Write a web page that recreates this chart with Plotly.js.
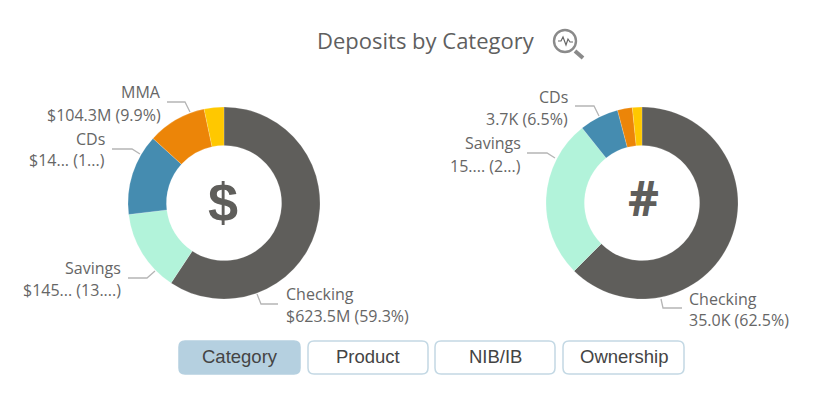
<!DOCTYPE html>
<html><head><meta charset="utf-8">
<script src="https://cdn.plot.ly/plotly-3.0.1.min.js"></script>
<style>html,body{margin:0;padding:0;background:#fff;overflow:hidden}#c{width:824px;height:393px}</style>
</head><body><div id="c"></div>
<script>
const categories = ['Checking','Savings','CDs','MMA','Other'];
const amountValues = [623.5,145.0,143.6,104.3,35.0];
const countValues = [35.0,15.0,3.7,1.4,0.9];
const sliceColors = ['#5f5e5b','#b2f3da','#458cb0','#ec8508','#ffc800'];
const amountLabels = [
  ['Checking','$623.5M (59.3%)','left',286,294,316,[[278,304],[261,304],[257,294]]],
  ['Savings','$145... (13....)','right',121,268,290,[[128,278],[147,278],[155,271]]],
  ['CDs','$14... (1...)','right',105,139,160,[[112,149],[132,149],[140,154]]],
  ['MMA','$104.3M (9.9%)','right',161,92,115,[[167,102],[185,102],[190,112]]]
];
const countLabels = [
  ['Checking','35.0K (62.5%)','left',689,299,320,[[682,308],[663,308],[661,299]]],
  ['Savings','15.... (2...)','right',521,143,166,[[527,153],[547,153],[555,158]]],
  ['CDs','3.7K (6.5%)','right',568,97,119,[[575,106],[594,106],[599,116]]]
];
const buttonLabels = ['Category','Product','NIB/IB','Ownership'];
const buttonEdges = [[179,300],[308,428],[435,555],[563,684]];

const W=824,H=393,px=x=>x/W,py=y=>1-y/H;
const labelFont='"Open Sans","Noto Sans",sans-serif';
function pie(values,cx){return {type:'pie',values:values,labels:categories,sort:false,direction:'clockwise',rotation:0,hole:0.6,
  textinfo:'none',hoverinfo:'label+value',showlegend:false,
  marker:{colors:sliceColors,line:{color:'rgba(255,255,255,0.35)',width:0.5}},
  domain:{x:[px(cx-96),px(cx+96)],y:[py(299),py(107)]}};}
const annotations=[],shapes=[];
function txt(t,x,y,anchor,size,color,family,bold){annotations.push({text:bold?'<b>'+t+'</b>':t,xref:'paper',yref:'paper',x:px(x),y:py(y),xanchor:anchor,yanchor:'middle',showarrow:false,borderpad:0,borderwidth:0,font:{size:size,color:color,family:family}});}
function poly(pts,color,w){shapes.push({type:'path',xref:'paper',yref:'paper',path:'M'+pts.map(p=>px(p[0])+','+py(p[1])).join('L'),line:{color:color,width:w},fillcolor:'rgba(0,0,0,0)'});}
amountLabels.concat(countLabels).forEach(l=>{
  txt(l[0],l[3],l[4],l[2],16,'#666666',labelFont);
  txt(l[1],l[3],l[5],l[2],16,'#666666',labelFont);
  poly(l[6],'#b5b5b5',1.3);
});
txt('Deposits by Category',425.5,40,'center',22,'#5f5f5f',labelFont);
txt('$',222.5,202,'center',54,'#5f5e5b','"Liberation Sans",Arial,sans-serif',true);
txt('#',643.5,198,'center',48,'#5f5e5b',labelFont,true);
// zoom icon
shapes.push({type:'circle',xref:'paper',yref:'paper',x0:px(554),x1:px(576),y0:py(52),y1:py(30),line:{color:'#8a8a8a',width:2.4},fillcolor:'#fff'});
poly([[575,51],[583,58]],'#8a8a8a',4);
poly([[558,41],[561,41],[563,37],[566,45],[568,39],[570,42],[573,42]],'#666666',1.2);
// buttons
buttonLabels.forEach((b,i)=>{
  const [a,c]=buttonEdges[i],t=341,u=374,r=6,on=i===0;
  const rx=r/W,ry=r/H;
  const X0=px(a),X1=px(c),Y0=py(u),Y1=py(t);
  shapes.push({type:'path',xref:'paper',yref:'paper',
    path:`M${X0+rx},${Y1}L${X1-rx},${Y1}Q${X1},${Y1} ${X1},${Y1-ry}L${X1},${Y0+ry}Q${X1},${Y0} ${X1-rx},${Y0}L${X0+rx},${Y0}Q${X0},${Y0} ${X0},${Y0+ry}L${X0},${Y1-ry}Q${X0},${Y1} ${X0+rx},${Y1}Z`,
    line:{color:on?'#b5d0e0':'#c3d8e4',width:1.5},fillcolor:on?'#b5d0e0':'#ffffff'});
  txt(b,(a+c)/2,356.5,'center',18.5,'#444444','"Liberation Sans",Arial,sans-serif');
});
Plotly.newPlot('c',[pie(amountValues,224),pie(countValues,642)],{
  width:W,height:H,margin:{l:0,r:0,t:0,b:0},paper_bgcolor:'#fff',showlegend:false,annotations:annotations,shapes:shapes
},{displayModeBar:false,staticPlot:true});
</script></body></html>
